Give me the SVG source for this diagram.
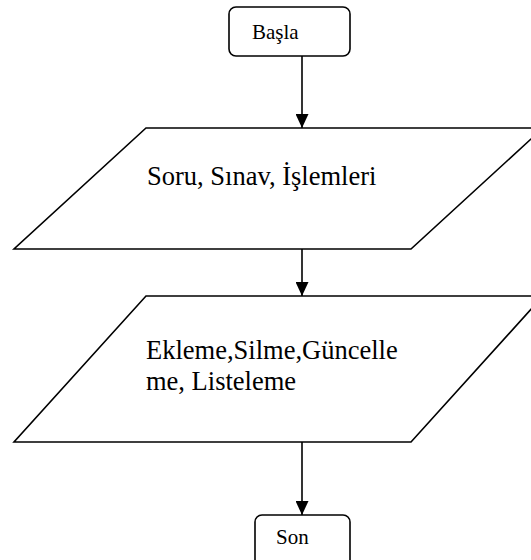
<svg xmlns="http://www.w3.org/2000/svg" width="531" height="560" viewBox="0 0 531 560">
  <style>
    .shape { fill: #fff; stroke: #000; stroke-width: 1.6; stroke-linejoin: miter; }
    .label { font-family: "Liberation Serif", "Times New Roman", serif; fill: #000; }
    .small { font-size: 21px; }
    .big { font-size: 26.5px; }
    .flow { stroke: #000; stroke-width: 1.6; fill: none; marker-end: url(#head); }
  </style>
  <defs>
    <marker id="head" viewBox="0 0 14 13" refX="14" refY="6.5" markerWidth="14" markerHeight="13" markerUnits="userSpaceOnUse" orient="auto">
      <path d="M0,0 L14,6.5 L0,13 Z" fill="#000"/>
    </marker>
  </defs>
  <rect width="531" height="560" fill="#fff"/>

  <g id="connectors">
    <line class="flow" x1="302" y1="56" x2="302" y2="128"/>
    <line class="flow" x1="302" y1="249" x2="302" y2="296"/>
    <line class="flow" x1="302" y1="442" x2="302" y2="515"/>
  </g>

  <g id="start">
    <rect class="shape" x="229" y="7" width="121" height="49" rx="7" ry="7"/>
    <text class="label small" x="252" y="39">Başla</text>
  </g>

  <g id="input1">
    <polygon class="shape" points="146,128 543,128 411,249 14,249"/>
    <text class="label big" x="147" y="185">Soru, Sınav, İşlemleri</text>
  </g>

  <g id="input2">
    <polygon class="shape" points="146,296 543,296 411,442 14,442"/>
    <text class="label big" x="146" y="359">Ekleme,Silme,Güncelle</text>
    <text class="label big" x="146" y="390">me, Listeleme</text>
  </g>

  <g id="end">
    <rect class="shape" x="255" y="515" width="95" height="52" rx="7" ry="7"/>
    <text class="label small" x="276" y="544">Son</text>
  </g>
</svg>
